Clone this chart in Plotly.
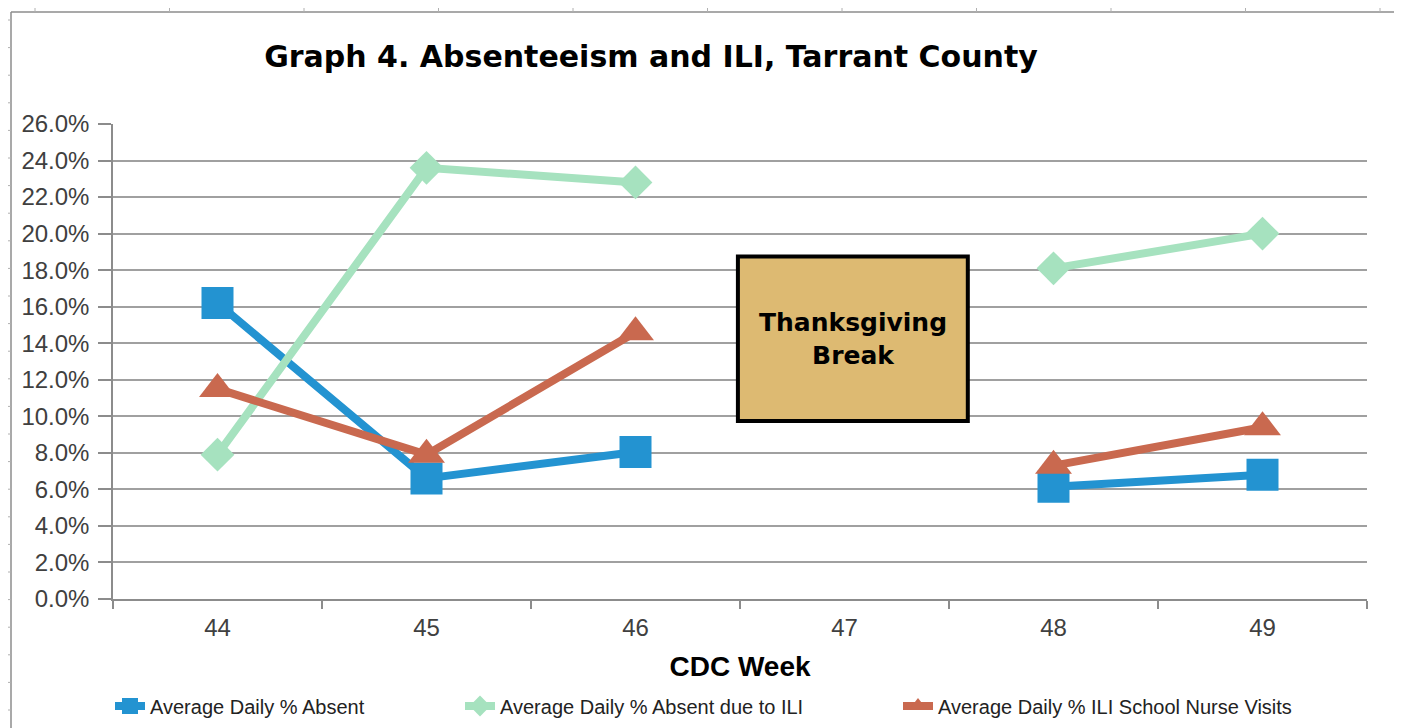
import plotly.graph_objects as go

weeks = ["44", "45", "46", "47", "48", "49"]
pct_absent = [0.162, 0.066, 0.0805, None, 0.0615, 0.068]
pct_absent_ili = [0.079, 0.236, 0.228, None, 0.181, 0.200]
pct_nurse_ili = [0.115, 0.079, 0.146, None, 0.073, 0.094]
y_ticks = [i / 100 for i in range(0, 27, 2)]

series_names = ["Average Daily % Absent", "Average Daily % Absent due to ILI",
                "Average Daily % ILI School Nurse Visits"]
colors = ["#2393D1", "#A6E2BF", "#C9694F"]
symbols = ["square", "diamond", "triangle-up"]
sizes = [32, 26, 32]
legend_ids = ["legend", "legend2", "legend3"]

# page body has an 8px default margin; work in reference-screenshot pixels
OFF = 8
W, H = 1402 - OFF, 728 - OFF
L, T = 113 - OFF, 124 - OFF
R = W - (1367 - OFF)
B = H - (599 - OFF)
pw, ph = W - L - R, H - T - B


def px_x(x):
    return (x - OFF - L) / pw


def px_y(y):
    return (H - B - (y - OFF)) / ph


fig = go.Figure()
for name, vals, c, s, sz, lg in zip(series_names,
                                   [pct_absent, pct_absent_ili, pct_nurse_ili],
                                   colors, symbols, sizes, legend_ids):
    fig.add_trace(go.Scatter(
        x=weeks, y=vals, name=name, mode="lines+markers",
        line=dict(color=c, width=8), connectgaps=False,
        marker=dict(symbol=s, size=sz, color=c),
        legend=lg, showlegend=True,
    ))

legend_font = dict(family="Liberation Sans, Arial", size=20, color="#222222")
legend_x = [110, 460, 898]
legend_common = dict(orientation="h", yanchor="middle", xanchor="left",
                     font=dict(legend_font), bgcolor="rgba(0,0,0,0)", borderwidth=0,
                     itemwidth=30, visible=True)

shapes = [
    # Thanksgiving break box
    dict(type="rect", xref="x", yref="y", x0=2.49, x1=3.59, y0=0.0975, y1=0.1875,
         fillcolor="#DDBA72", line=dict(color="black", width=4), layer="above"),
    # outer frame
    dict(type="line", xref="paper", yref="paper", x0=px_x(11), x1=px_x(11),
         y0=px_y(12), y1=px_y(740), line=dict(color="#8c8c8c", width=1.5)),
    dict(type="line", xref="paper", yref="paper", x0=px_x(11), x1=px_x(1410),
         y0=px_y(12), y1=px_y(12), line=dict(color="#8c8c8c", width=1.5)),
]
# ruler ticks along frame edges
yy = 20
while yy < 728:
    shapes.append(dict(type="line", xref="paper", yref="paper", x0=px_x(8), x1=px_x(11),
                       y0=px_y(yy), y1=px_y(yy), line=dict(color="#b0b0b0", width=1)))
    yy += 27.6
xx = 35
while xx < 1402:
    shapes.append(dict(type="line", xref="paper", yref="paper", x0=px_x(xx), x1=px_x(xx),
                       y0=px_y(8), y1=px_y(12), line=dict(color="#b0b0b0", width=1)))
    xx += 134.5

fig.update_layout(
    width=W, height=H,
    margin=dict(l=L, r=R, t=T, b=B, autoexpand=False),
    paper_bgcolor="white", plot_bgcolor="white",
    showlegend=True,
    title=dict(text="<b>Graph 4. Absenteeism and ILI, Tarrant County</b>",
               x=px_x(651), xanchor="center", xref="paper",
               y=1 - (56 - OFF) / H, yanchor="middle",
               font=dict(family="DejaVu Sans, Liberation Sans, Arial", size=30, color="black")),
    xaxis=dict(type="category", categoryorder="array", categoryarray=weeks,
               range=[-0.5, 5.5], tickson="boundaries", ticks="outside", ticklen=8,
               tickcolor="#8c8c8c", tickwidth=1.5, ticklabelstandoff=6,
               showline=True, linecolor="#8c8c8c", linewidth=1.5, showgrid=False,
               tickfont=dict(family="Liberation Sans, Arial", size=24, color="#404040"),
               title=dict(text="<b>CDC Week</b>", standoff=17,
                          font=dict(family="Liberation Sans, Arial", size=28, color="black"))),
    yaxis=dict(range=[0, 0.26], tickvals=y_ticks, tickformat=".1%",
               ticks="outside", ticklen=13, tickcolor="#8c8c8c", tickwidth=1.5,
               ticklabelstandoff=4,
               showline=True, linecolor="#8c8c8c", linewidth=1.5,
               showgrid=True, gridcolor="#a0a0a0", gridwidth=1.5, zeroline=False,
               tickfont=dict(family="Liberation Sans, Arial", size=24, color="#404040")),
    legend=dict(x=px_x(legend_x[0]), y=px_y(706), **legend_common),
    legend2=dict(x=px_x(legend_x[1]), y=px_y(706), **legend_common),
    legend3=dict(x=px_x(legend_x[2]), y=px_y(706), **legend_common),
    shapes=shapes,
    annotations=[dict(xref="x", yref="y", x=2.5 + 0.54, y=0.1425,
                      text="<b>Thanksgiving<br>Break</b>", showarrow=False,
                      font=dict(family="DejaVu Sans, Liberation Sans, Arial", size=25,
                                color="black"))],
)

fig.write_html("out.html")
